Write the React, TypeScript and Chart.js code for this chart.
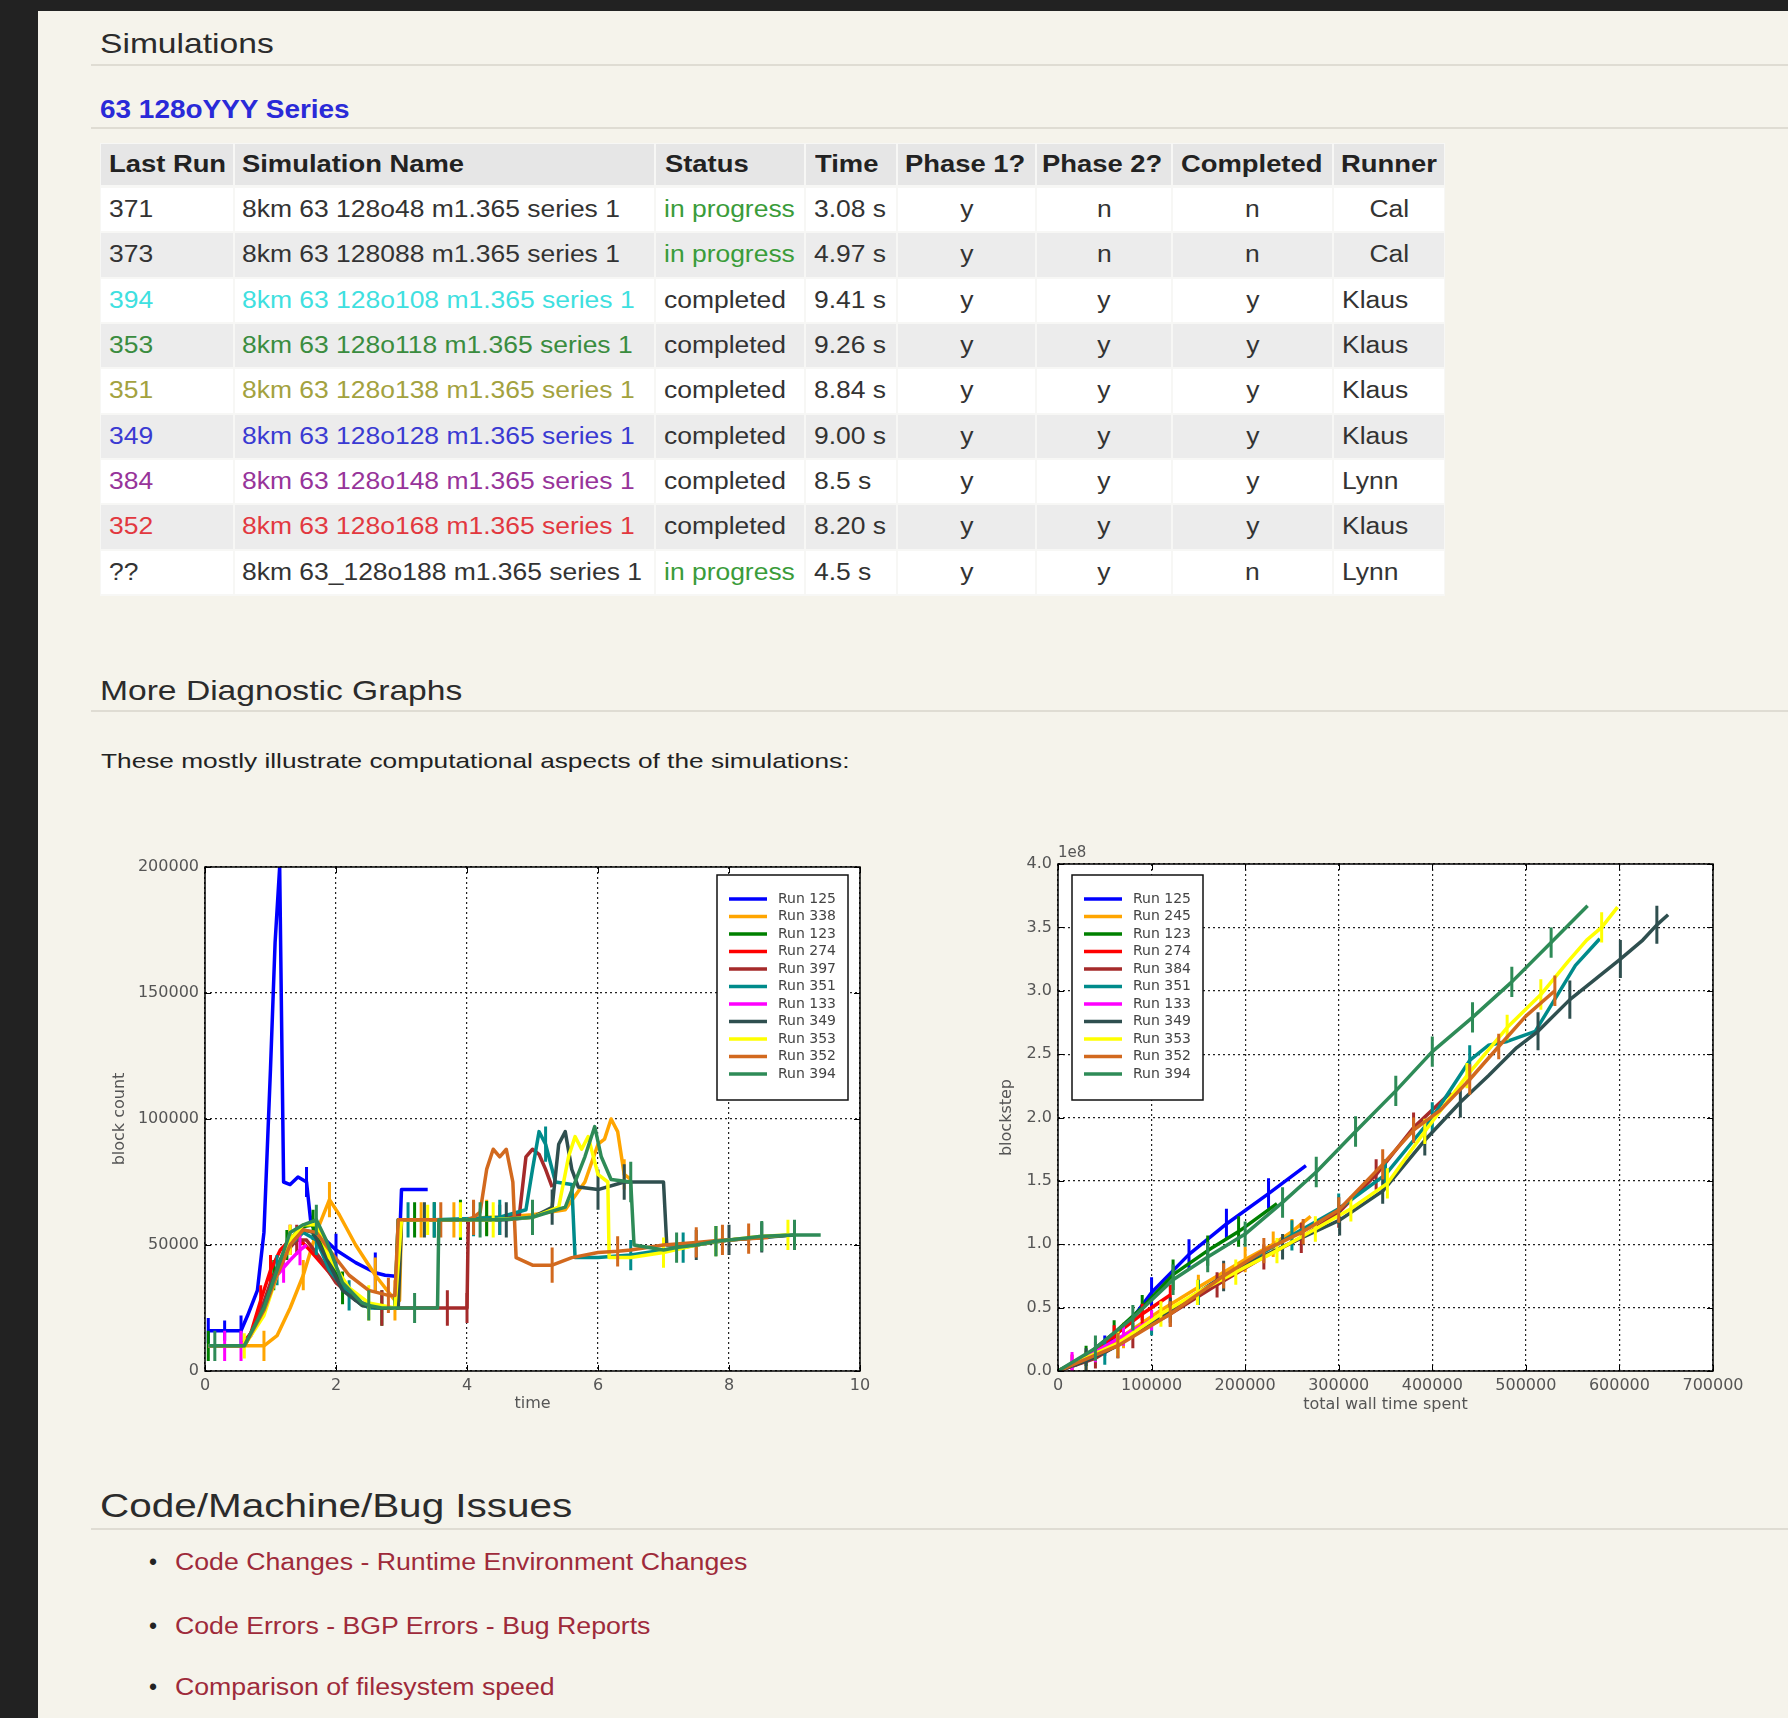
import React, { useEffect, useRef } from 'react';
import { Chart, registerables } from 'chart.js';

Chart.register(...registerables);
Chart.defaults.font.family = '"DejaVu Sans", sans-serif';

// ---------------- Table data ----------------
const tableHeaders = ['Last Run', 'Simulation Name', 'Status', 'Time', 'Phase 1?', 'Phase 2?', 'Completed', 'Runner'];
const lastRuns = ['371', '373', '394', '353', '351', '349', '384', '352', '??'];
const simNames = [
  '8km 63 128o48 m1.365 series 1',
  '8km 63 128088 m1.365 series 1',
  '8km 63 128o108 m1.365 series 1',
  '8km 63 128o118 m1.365 series 1',
  '8km 63 128o138 m1.365 series 1',
  '8km 63 128o128 m1.365 series 1',
  '8km 63 128o148 m1.365 series 1',
  '8km 63 128o168 m1.365 series 1',
  '8km 63_128o188 m1.365 series 1',
];
const statuses = ['in progress', 'in progress', 'completed', 'completed', 'completed', 'completed', 'completed', 'completed', 'in progress'];
const times = ['3.08 s', '4.97 s', '9.41 s', '9.26 s', '8.84 s', '9.00 s', '8.5 s', '8.20 s', '4.5 s'];
const phase1 = ['y', 'y', 'y', 'y', 'y', 'y', 'y', 'y', 'y'];
const phase2 = ['n', 'n', 'y', 'y', 'y', 'y', 'y', 'y', 'y'];
const completedFlags = ['n', 'n', 'y', 'y', 'y', 'y', 'y', 'y', 'n'];
const runners = ['Cal', 'Cal', 'Klaus', 'Klaus', 'Klaus', 'Klaus', 'Lynn', 'Klaus', 'Lynn'];
const rowColors = ['#333333', '#333333', '#3fe0e0', '#3a8c3f', '#a3a23f', '#3a3ad2', '#97349a', '#e2383f', '#333333'];

const issueLinks = ['Code Changes - Runtime Environment Changes', 'Code Errors - BGP Errors - Bug Reports', 'Comparison of filesystem speed'];

// ---------------- Chart 1: block count vs time ----------------
type Pt = [number, number, number]; // x, y, error half-length (0 = none)
const blockRuns = ['Run 125', 'Run 338', 'Run 123', 'Run 274', 'Run 397', 'Run 351', 'Run 133', 'Run 349', 'Run 353', 'Run 352', 'Run 394'];
const runColors = ['#0000ff', '#ffa500', '#008000', '#ff0000', '#a52a2a', '#008b8b', '#ff00ff', '#2f4f4f', '#ffff00', '#d2691e', '#2e8b57'];

const bc125: Pt[] = [[0.05,16000,5000],[0.3,16000,4000],[0.55,16000,6000],[0.65,22000,0],[0.8,32000,0],[0.9,55000,0],[1.0,120000,0],[1.07,170000,0],[1.14,200000,0],[1.2,75000,0],[1.3,74000,0],[1.42,77000,0],[1.55,75000,6000],[1.62,58000,0],[1.8,53000,0],[2.0,48000,6500],[2.3,43000,0],[2.6,39000,8000],[2.75,38000,0],[2.95,37500,0],[3.0,72000,0],[3.4,72000,0]];
const bc338: Pt[] = [[0.05,10000,0],[0.5,10000,0],[0.9,10000,6000],[1.1,14000,0],[1.3,25000,0],[1.5,38000,6000],[1.7,55000,0],[1.9,68000,7000],[2.05,62000,0],[2.3,50000,0],[2.6,38000,7000],[2.9,28000,8000],[2.97,28000,0],[3.0,60000,0],[3.3,60000,7000],[3.8,60000,7000],[4.0,60000,0],[4.3,61000,7000],[4.5,61000,0],[5.0,62000,0],[5.5,64000,0],[5.8,75000,0],[6.0,90000,0],[6.1,92000,0],[6.2,100000,0],[6.3,95000,0],[6.4,78000,6000],[6.5,76000,0]];
const bc123: Pt[] = [[0.05,10000,6000],[0.6,10000,0],[0.85,22000,0],[1.05,38000,6000],[1.25,50000,6000],[1.45,57000,0],[1.65,58000,6000],[1.85,47000,0],[2.1,33000,6500],[2.4,26000,0],[2.7,25000,7000],[2.9,25000,0],[2.95,60000,0],[3.2,60000,7000],[3.5,60000,7000],[3.9,60000,8000],[4.3,60500,7000],[4.6,61000,0]];
const bc274: Pt[] = [[0.05,10000,0],[0.55,10000,0],[0.7,15000,0],[0.85,28000,6000],[1.0,40000,6000],[1.15,48000,0],[1.3,52000,6000],[1.45,52000,0],[1.6,48000,0],[1.8,42000,0],[2.0,36000,0]];
const bc397: Pt[] = [[0.05,10000,0],[0.6,10000,0],[0.8,20000,0],[1.0,35000,0],[1.2,46000,0],[1.4,52000,6000],[1.55,52000,0],[1.75,45000,0],[2.0,35000,0],[2.3,28000,0],[2.6,25000,0],[2.7,25000,7000],[3.0,25000,0],[3.3,25000,0],[3.7,25000,7000],[4.0,25000,6000],[4.02,60000,0],[4.5,60000,6000],[4.8,62000,0],[4.9,85000,0],[5.0,88000,0],[5.1,86000,0],[5.2,80000,0],[5.3,73000,0]];
const bc351: Pt[] = [[0.05,10000,0],[0.6,10000,0],[0.85,22000,0],[1.1,40000,6000],[1.3,50000,0],[1.5,55000,0],[1.7,52000,6000],[1.9,40000,0],[2.2,30000,6000],[2.5,25000,0],[2.9,25000,0],[2.95,60000,0],[3.1,60000,7000],[3.5,60000,7000],[4.1,60500,7000],[4.5,61000,7000],[4.9,64000,0],[5.0,80000,0],[5.1,95000,0],[5.2,90000,7000],[5.35,75000,0],[5.6,74000,0],[5.65,45000,0],[6.0,45000,0],[6.5,46000,6000],[7.0,48000,0],[7.3,49000,6000],[7.5,50000,0],[7.8,51500,6000],[8.0,52000,0],[8.5,53000,0],[8.9,54000,0]];
const bc133: Pt[] = [[0.05,10000,0],[0.3,10000,6000],[0.55,10000,6000],[0.7,14000,0],[0.9,25000,0],[1.1,38000,0],[1.2,41000,6000],[1.3,44000,0],[1.45,48000,6000],[1.55,50000,0]];
const bc349: Pt[] = [[0.05,10000,0],[0.6,10000,0],[0.85,22000,0],[1.1,40000,0],[1.3,52000,0],[1.5,56000,0],[1.65,55000,0],[1.85,45000,0],[2.1,32000,0],[2.4,26000,0],[2.7,25000,0],[2.95,25000,0],[3.0,60000,0],[3.35,60000,7000],[4.0,60000,0],[4.6,60000,7000],[5.0,61000,0],[5.3,65000,7000],[5.4,90000,0],[5.5,95000,0],[5.6,80000,0],[5.7,73000,0],[6.0,72000,8000],[6.4,75000,7000],[7.0,75000,0],[7.05,50000,0],[7.5,50000,6000],[8.0,52000,6000],[8.5,53000,6000],[9.0,54000,0]];
const bc353: Pt[] = [[0.05,10000,0],[0.6,10000,5000],[0.9,22000,0],[1.1,38000,0],[1.3,52000,6000],[1.5,58000,0],[1.7,58000,0],[1.9,45000,0],[2.2,33000,0],[2.5,27000,7000],[2.9,25000,0],[3.0,60000,0],[3.4,60000,6000],[3.9,60000,7000],[4.4,60000,7000],[5.0,61000,0],[5.4,65000,0],[5.55,85000,0],[5.65,93000,0],[5.75,88000,0],[5.85,93000,0],[6.0,78000,0],[6.15,75000,0],[6.17,45000,0],[6.5,45000,0],[7.0,47000,6000],[7.5,50000,0],[7.8,51500,6000],[8.0,52000,0],[8.5,53500,0],[8.9,54000,6000]];
const bc352: Pt[] = [[0.05,10000,0],[0.6,10000,0],[0.9,24000,0],[1.1,38000,0],[1.3,50000,0],[1.5,56000,0],[1.7,55000,0],[1.9,48000,0],[2.2,38000,0],[2.5,32000,0],[2.8,30000,7000],[2.9,30000,0],[2.95,60000,0],[3.6,60000,7000],[4.0,60000,0],[4.1,61000,7000],[4.2,63000,0],[4.3,80000,0],[4.4,88000,0],[4.5,85000,0],[4.6,88000,0],[4.7,75000,0],[4.75,45000,0],[5.0,42000,0],[5.3,42000,7000],[5.6,45000,0],[6.0,47000,0],[6.3,47500,6000],[6.5,48000,0],[7.0,50000,0],[7.5,51000,6000],[7.9,52000,6000],[8.0,52000,0],[8.3,52500,6000],[8.6,53000,0]];
const bc394: Pt[] = [[0.05,10000,0],[0.15,10000,6000],[0.6,10000,0],[0.9,25000,0],[1.1,40000,0],[1.3,55000,0],[1.5,58000,0],[1.7,60000,6000],[1.85,52000,0],[2.1,35000,0],[2.4,27000,0],[2.5,26000,6000],[2.7,25000,0],[3.2,25000,6000],[3.55,25000,0],[3.57,60000,0],[4.0,60000,0],[4.2,60000,7000],[4.5,60000,0],[5.0,61000,7000],[5.5,65000,0],[5.8,85000,0],[5.95,97000,0],[6.05,85000,0],[6.2,76000,0],[6.5,75000,8000],[6.55,50000,0],[7.0,48000,0],[7.2,49000,6000],[7.5,50000,0],[7.8,51500,6000],[8.0,52000,0],[8.5,53500,6000],[9.0,54000,6000],[9.4,54000,0]];
const blockSeries = [bc125, bc338, bc123, bc274, bc397, bc351, bc133, bc349, bc353, bc352, bc394];

// ---------------- Chart 2: blockstep (x1e8) vs total wall time ----------------
const stepRuns = ['Run 125', 'Run 245', 'Run 123', 'Run 274', 'Run 384', 'Run 351', 'Run 133', 'Run 349', 'Run 353', 'Run 352', 'Run 394'];
const bs125: Pt[] = [[0,0,0],[20000,0.05,0],[50000,0.2,0.08],[80000,0.42,0],[100000,0.62,0.12],[140000,0.92,0.12],[180000,1.16,0.12],[225000,1.4,0.12],[265000,1.62,0]];
const bs245: Pt[] = [[0,0,0],[30000,0.08,0.08],[70000,0.28,0.1],[110000,0.48,0],[150000,0.66,0.1],[200000,0.88,0.1],[230000,1.0,0.1],[250000,1.1,0.1],[270000,1.22,0]];
const bs123: Pt[] = [[0,0,0],[30000,0.12,0.08],[60000,0.3,0.1],[90000,0.5,0.1],[123000,0.76,0.12],[160000,0.95,0.12],[193000,1.1,0.12],[234000,1.32,0]];
const bs274: Pt[] = [[0,0,0],[15000,0.05,0.08],[30000,0.1,0],[60000,0.28,0.08],[90000,0.45,0.08],[120000,0.6,0.08]];
const bs384: Pt[] = [[0,0,0],[40000,0.1,0.08],[80000,0.28,0.1],[120000,0.45,0.1],[170000,0.68,0.1],[220000,0.9,0.1],[260000,1.05,0.12],[300000,1.25,0.12],[340000,1.55,0.12],[380000,1.92,0.12],[420000,2.2,0]];
const bs351: Pt[] = [[0,0,0],[50000,0.15,0.1],[100000,0.38,0.1],[150000,0.62,0.1],[200000,0.85,0],[250000,1.07,0.12],[300000,1.28,0.12],[350000,1.55,0.12],[400000,2.0,0.12],[440000,2.45,0.12],[460000,2.57,0],[480000,2.6,0],[510000,2.68,0],[553000,3.2,0],[579000,3.41,0]];
const bs133: Pt[] = [[0,0,0],[15000,0.05,0.1],[40000,0.15,0.08],[70000,0.28,0.08],[100000,0.4,0.08],[115000,0.45,0]];
const bs349: Pt[] = [[0,0,0],[30000,0.08,0.1],[64000,0.2,0.1],[120000,0.48,0.1],[177000,0.75,0.12],[240000,0.98,0.1],[301000,1.19,0.12],[347000,1.42,0.1],[392000,1.82,0.12],[430000,2.12,0.12],[460000,2.33,0],[490000,2.55,0],[513000,2.68,0.15],[547000,2.93,0.15],[601000,3.25,0.15],[625000,3.4,0],[640000,3.52,0.15],[652000,3.6,0]];
const bs353: Pt[] = [[0,0,0],[64000,0.22,0.1],[110000,0.45,0.1],[149000,0.62,0.1],[190000,0.78,0.1],[234000,0.95,0.1],[275000,1.12,0.1],[313000,1.28,0.1],[352000,1.48,0.12],[392000,1.89,0.1],[437000,2.33,0.1],[480000,2.71,0.1],[516000,2.97,0.12],[545000,3.23,0],[565000,3.4,0],[581000,3.5,0.12],[598000,3.66,0]];
const bs352: Pt[] = [[0,0,0],[64000,0.2,0.1],[120000,0.45,0.1],[177000,0.75,0.1],[220000,0.95,0.1],[262000,1.1,0.1],[300000,1.27,0.1],[347000,1.63,0.12],[380000,1.9,0.1],[409000,2.06,0],[440000,2.3,0.12],[471000,2.56,0.1],[500000,2.8,0],[531000,3.0,0.12]];
const bs394: Pt[] = [[0,0,0],[40000,0.18,0.1],[80000,0.42,0.1],[123000,0.72,0.12],[160000,0.9,0.12],[200000,1.08,0.1],[240000,1.33,0.12],[276000,1.57,0.12],[318000,1.89,0.12],[361000,2.21,0.12],[400000,2.52,0.12],[443000,2.79,0.12],[485000,3.07,0.12],[527000,3.38,0.12],[566000,3.67,0]];
const stepSeries = [bs125, bs245, bs123, bs274, bs384, bs351, bs133, bs349, bs353, bs352, bs394];

// ---------------- chart helpers ----------------
type AxisSpec = {
  xMin: number; xMax: number; xStep: number; yMin: number; yMax: number; yStep: number;
  xTitle: string; yTitle: string; yFmt: (v: number) => string; xFmt: (v: number) => string;
  padTop: number; padRight: number; yWidth: number; yTitlePad: number; xHeight: number; xTitlePad: number;
  legendSide: 'left' | 'right'; legendDx: number; legendDy: number; offsetText?: string;
};

function makeMplPlugin(ax: AxisSpec) {
  return {
    id: 'mpl',
    beforeDraw(chart: any) {
      const { ctx, chartArea: a } = chart;
      ctx.save();
      ctx.fillStyle = '#ffffff';
      ctx.fillRect(a.left, a.top, a.right - a.left, a.bottom - a.top);
      ctx.restore();
    },
    afterDatasetsDraw(chart: any) {
      const { ctx, chartArea: a, scales } = chart;
      ctx.save();
      ctx.strokeStyle = '#000';
      ctx.lineWidth = 1;
      const xs = scales.x, ys = scales.y;
      xs.ticks.forEach((t: any) => {
        const px = Math.round(xs.getPixelForValue(t.value)) + 0.5;
        ctx.beginPath();
        ctx.moveTo(px, a.bottom); ctx.lineTo(px, a.bottom - 6);
        ctx.moveTo(px, a.top); ctx.lineTo(px, a.top + 6);
        ctx.stroke();
      });
      ys.ticks.forEach((t: any) => {
        const py = Math.round(ys.getPixelForValue(t.value)) + 0.5;
        ctx.beginPath();
        ctx.moveTo(a.left, py); ctx.lineTo(a.left + 6, py);
        ctx.moveTo(a.right, py); ctx.lineTo(a.right - 6, py);
        ctx.stroke();
      });
      ctx.lineWidth = 1.5;
      ctx.strokeRect(a.left, a.top, a.right - a.left, a.bottom - a.top);

      // legend box
      const items = chart.data.datasets.filter((d: any) => !d._err);
      const w = 131, h = 225;
      const lx = ax.legendSide === 'right' ? a.right - ax.legendDx - w : a.left + ax.legendDx;
      const ly = a.top + ax.legendDy;
      ctx.fillStyle = '#fff';
      ctx.fillRect(lx, ly, w, h);
      ctx.strokeStyle = '#111';
      ctx.lineWidth = 1.5;
      ctx.strokeRect(lx, ly, w, h);
      ctx.font = '14px "DejaVu Sans"';
      ctx.textBaseline = 'middle';
      ctx.textAlign = 'left';
      items.forEach((d: any, i: number) => {
        const y = ly + 24 + i * 17.5;
        ctx.strokeStyle = d.borderColor;
        ctx.lineWidth = 3.5;
        ctx.beginPath();
        ctx.moveTo(lx + 12, y); ctx.lineTo(lx + 50, y);
        ctx.stroke();
        ctx.fillStyle = '#444';
        ctx.fillText(d.label, lx + 61, y);
      });
      if (ax.offsetText) {
        ctx.font = '15px "DejaVu Sans"';
        ctx.fillStyle = '#555';
        ctx.fillText(ax.offsetText, a.left, a.top - 11);
      }
      ctx.restore();
    },
  };
}

function buildConfig(series: Pt[][], labels: string[], colors: string[], ax: AxisSpec): any {
  const datasets: any[] = [];
  series.forEach((pts, i) => {
    const order = series.length - i;
    datasets.push({
      label: labels[i], data: pts.map(([x, y]) => ({ x, y })),
      borderColor: colors[i], backgroundColor: colors[i], borderWidth: 3.5, borderJoinStyle: 'round',
      pointRadius: 0, showLine: true, order,
    });
    const eb: any[] = [];
    pts.forEach(([x, y, e]) => { if (e > 0) eb.push({ x, y: y - e }, { x, y: y + e }, { x, y: NaN }); });
    datasets.push({
      label: '', _err: true, data: eb, borderColor: colors[i], backgroundColor: colors[i], borderWidth: 3,
      pointRadius: 0, showLine: true, spanGaps: false, order,
    });
  });
  const tickFont = { size: 16 };
  return {
    type: 'scatter',
    data: { datasets },
    plugins: [makeMplPlugin(ax)],
    options: {
      responsive: false, animation: false, events: [],
      layout: { padding: { top: ax.padTop, right: ax.padRight, left: 0, bottom: 0 } },
      plugins: { legend: { display: false }, tooltip: { enabled: false } },
      scales: {
        x: {
          type: 'linear', min: ax.xMin, max: ax.xMax,
          ticks: { stepSize: ax.xStep, color: '#555', font: tickFont, padding: 5, maxRotation: 0, autoSkip: false, callback: (v: any) => ax.xFmt(Number(v)) },
          grid: { color: '#222', lineWidth: 1.2, drawTicks: false },
          border: { display: false, dash: [2, 3] },
          title: { display: true, text: ax.xTitle, color: '#555', font: { size: 16 }, padding: { top: 0, bottom: ax.xTitlePad } },
          afterFit: (s: any) => { s.height = ax.xHeight; },
        },
        y: {
          type: 'linear', min: ax.yMin, max: ax.yMax,
          ticks: { stepSize: ax.yStep, color: '#555', font: tickFont, padding: 6, autoSkip: false, callback: (v: any) => ax.yFmt(Number(v)) },
          grid: { color: '#222', lineWidth: 1.2, drawTicks: false },
          border: { display: false, dash: [2, 3] },
          title: { display: true, text: ax.yTitle, color: '#555', font: { size: 16 }, padding: { top: ax.yTitlePad, bottom: 0 } },
          afterFit: (s: any) => { s.width = ax.yWidth; },
        },
      },
    },
  };
}

function ChartBox({ left, top, width, height, config }: { left: number; top: number; width: number; height: number; config: () => any }) {
  const ref = useRef<HTMLCanvasElement>(null);
  useEffect(() => {
    const chart = new Chart(ref.current as HTMLCanvasElement, config());
    return () => chart.destroy();
  }, []);
  return <canvas ref={ref} width={width} height={height} style={{ position: 'absolute', left, top, width, height }} />;
}

// ---------------- html helpers ----------------
const FONT = '"Liberation Sans", Arial, Helvetica, sans-serif';

function Txt({ x, cy, size, sx, color, weight, children }: any) {
  return (
    <div style={{
      position: 'absolute', left: x, top: cy - 0.588 * size, fontSize: size, lineHeight: `${size * 1.2}px`,
      whiteSpace: 'nowrap', color, fontWeight: weight || 400, transform: `scaleX(${sx})`, transformOrigin: '0 50%',
    }}>{children}</div>
  );
}

function Cell({ x0, x1, y0, y1, text, align, size, sx, color, weight, bg, pad }: any) {
  return (
    <div style={{
      position: 'absolute', left: x0 + 1, top: y0 + 1, width: x1 - x0 - 2, height: y1 - y0 - 2, background: bg,
      lineHeight: `${y1 - y0 - 2}px`, textAlign: align, paddingLeft: align === 'left' ? pad - 1 : 0,
      boxSizing: 'border-box', fontSize: size, fontWeight: weight, color, whiteSpace: 'nowrap', overflow: 'visible',
    }}>
      <span style={{ display: 'inline-block', transform: `scaleX(${sx})`, transformOrigin: align === 'left' ? '0 50%' : '50% 50%' }}>{text}</span>
    </div>
  );
}

const colX = [100, 234, 655, 805, 897, 1036, 1172, 1333, 1445];
const headerPads = [9, 8, 10, 10, 8, 6, 9, 8];

function HLine({ y }: { y: number }) {
  return <div style={{ position: 'absolute', left: 91, right: 0, top: y - 1, height: 2, background: '#dfdcd3' }} />;
}

export default function App() {
  const rowTop = (i: number) => 187 + i * 45.35;
  const cells: any[] = [];
  tableHeaders.forEach((h, c) => {
    cells.push(<Cell key={'h' + c} x0={colX[c]} x1={colX[c + 1]} y0={143} y1={186} text={h} align="left" pad={headerPads[c]} size={23} sx={1.19} weight={700} color="#222" bg="#e6e6e6" />);
  });
  lastRuns.forEach((_, r) => {
    const bg = r % 2 === 0 ? '#ffffff' : '#ececec';
    const y0 = rowTop(r), y1 = rowTop(r + 1);
    const vals = [lastRuns[r], simNames[r], statuses[r], times[r], phase1[r], phase2[r], completedFlags[r], runners[r]];
    vals.forEach((v, c) => {
      let color = '#333';
      if (c <= 1) color = rowColors[r];
      if (c === 2 && v === 'in progress') color = '#3a9c3a';
      let align = 'left';
      if (c >= 4 && c <= 6) align = 'center';
      if (c === 7 && v === 'Cal') align = 'center';
      cells.push(<Cell key={'c' + r + '_' + c} x0={colX[c]} x1={colX[c + 1]} y0={y0} y1={y1} text={v} align={align} pad={c === 1 ? 8 : 9} size={23} sx={1.15} weight={400} color={color} bg={bg} />);
    });
  });

  const leftAxis: AxisSpec = {
    xMin: 0, xMax: 10, xStep: 2, yMin: 0, yMax: 200000, yStep: 50000,
    xTitle: 'time', yTitle: 'block count', xFmt: (v) => String(v), yFmt: (v) => String(v),
    padTop: 27, padRight: 40, yWidth: 105, yTitlePad: 10, xHeight: 59, xTitlePad: 17,
    legendSide: 'right', legendDx: 12, legendDy: 8,
  };
  const rightAxis: AxisSpec = {
    xMin: 0, xMax: 700000, xStep: 100000, yMin: 0, yMax: 4, yStep: 0.5,
    xTitle: 'total wall time spent', yTitle: 'blockstep', xFmt: (v) => String(v), yFmt: (v) => v.toFixed(1),
    padTop: 24, padRight: 67, yWidth: 98, yTitlePad: 37, xHeight: 59, xTitlePad: 16,
    legendSide: 'left', legendDx: 14, legendDy: 11, offsetText: '1e8',
  };

  return (
    <div style={{ position: 'absolute', left: 0, top: 0, width: 1788, height: 1718, background: '#222222', overflow: 'hidden', fontFamily: FONT }}>
      <div style={{ position: 'absolute', left: 38, top: 11, right: 0, bottom: 0, background: '#f5f3eb' }} />
      <Txt x={100} cy={43} size={28} sx={1.2} color="#2b2b2b">Simulations</Txt>
      <HLine y={65} />
      <Txt x={100} cy={109} size={26} sx={1.075} color="#2a2ad8" weight={700}>63 128oYYY Series</Txt>
      <HLine y={128} />
      <div style={{ position: 'absolute', left: 100, top: 143, width: 1345, height: 453, background: '#f7f7f5' }} />
      {cells}
      <Txt x={100} cy={690} size={28} sx={1.2} color="#2b2b2b">More Diagnostic Graphs</Txt>
      <HLine y={711} />
      <Txt x={101} cy={760} size={21} sx={1.25} color="#222">These mostly illustrate computational aspects of the simulations:</Txt>

      <ChartBox left={100} top={840} width={800} height={590} config={() => buildConfig(blockSeries, blockRuns, runColors, leftAxis)} />
      <ChartBox left={960} top={840} width={820} height={590} config={() => buildConfig(stepSeries, stepRuns, runColors, rightAxis)} />

      <Txt x={100} cy={1505} size={34} sx={1.19} color="#2b2b2b">Code/Machine/Bug Issues</Txt>
      <HLine y={1529} />
      {issueLinks.map((t, i) => (
        <React.Fragment key={t}>
          <Txt x={149} cy={[1563, 1627, 1688][i]} size={23} sx={1} color="#222">•</Txt>
          <Txt x={175} cy={[1563, 1627, 1688][i]} size={23} sx={1.16} color="#9e2a3a">{t}</Txt>
        </React.Fragment>
      ))}
    </div>
  );
}
